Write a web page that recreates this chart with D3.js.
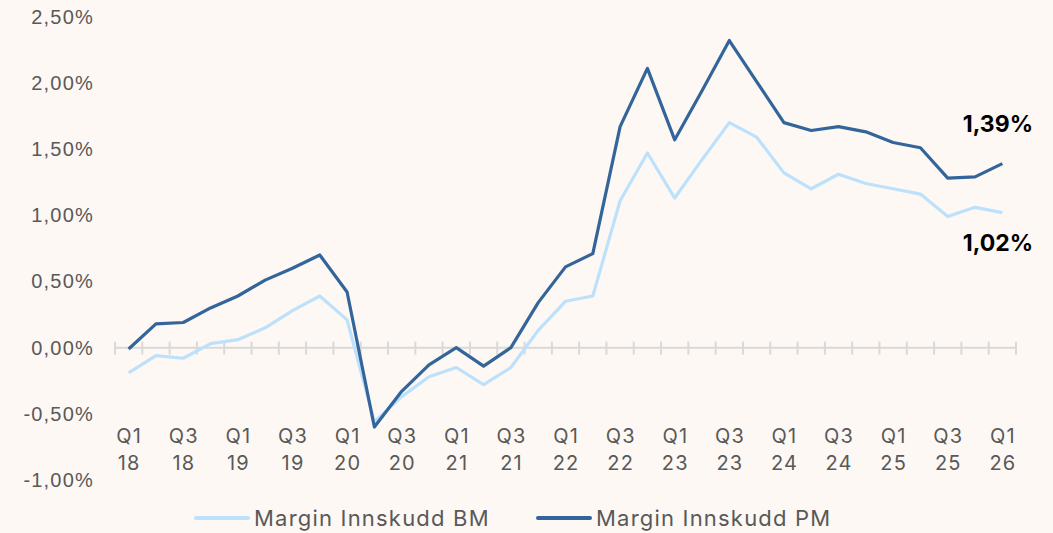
<html>
  <head>
    <script src="https://cdn.jsdelivr.net/npm/d3@7"></script>
    <style>
      * {
        margin: 0;
        padding: 0;
      }
      body {
        background-color: #fdf8f4;
        font-family: Inter, "Open Sans", sans-serif;
      }
      .lbl {
        fill: #595959;
        font-size: 20px;
        letter-spacing: 1.2px;
      }
      .note {
        fill: #000;
        font-size: 23px;
        font-weight: 700;
      }
    </style>
  </head>
  <body>
    <div id="chart"></div>
    <script>
      const quarters = [
        "Q1 18", "Q2 18", "Q3 18", "Q4 18", "Q1 19", "Q2 19", "Q3 19", "Q4 19",
        "Q1 20", "Q2 20", "Q3 20", "Q4 20", "Q1 21", "Q2 21", "Q3 21", "Q4 21",
        "Q1 22", "Q2 22", "Q3 22", "Q4 22", "Q1 23", "Q2 23", "Q3 23", "Q4 23",
        "Q1 24", "Q2 24", "Q3 24", "Q4 24", "Q1 25", "Q2 25", "Q3 25", "Q4 25",
        "Q1 26",
      ];
      const marginBM = [
        -0.19, -0.06, -0.08, 0.03, 0.06, 0.15, 0.28, 0.39, 0.21, -0.56, -0.37,
        -0.22, -0.15, -0.28, -0.15, 0.13, 0.35, 0.39, 1.11, 1.47, 1.13, 1.42,
        1.7, 1.59, 1.32, 1.2, 1.31, 1.24, 1.2, 1.16, 0.99, 1.06, 1.02,
      ];
      const marginPM = [
        -0.01, 0.18, 0.19, 0.3, 0.39, 0.51, 0.6, 0.7, 0.42, -0.6, -0.33, -0.13,
        0.0, -0.14, 0.0, 0.34, 0.61, 0.71, 1.67, 2.11, 1.57, 1.94, 2.32, 2.01,
        1.7, 1.64, 1.67, 1.63, 1.55, 1.51, 1.28, 1.29, 1.39,
      ];
      const yTicks = [-1, -0.5, 0, 0.5, 1, 1.5, 2, 2.5];
      const seriesNames = ["Margin Innskudd BM", "Margin Innskudd PM"];
      const colors = ["#bde1fb", "#33659a"];

      const w = 1053;
      const h = 533;

      const x = d3.scaleBand().domain(quarters).range([115, 1016]);
      const y = d3.scaleLinear().domain([-1, 2.5]).range([480, 16.7]);
      const fmt = (v) => v.toFixed(2).replace(".", ",") + "%";

      const svg = d3
        .select("#chart")
        .append("svg")
        .attr("width", w)
        .attr("height", h);

      // y labels
      const yAxis = svg
        .append("g")
        .attr("transform", "translate(94,0)")
        .call(d3.axisLeft(y).tickValues(yTicks).tickFormat(fmt).tickSize(0).tickPadding(0));
      yAxis.select(".domain").remove();
      yAxis
        .selectAll("text")
        .attr("class", "lbl")
        .attr("font-family", null)
        .attr("font-size", null)
        .attr("fill", null);

      // zero line with cross ticks at band edges
      const zero = y(0);
      svg
        .append("line")
        .attr("x1", 115)
        .attr("x2", 1016)
        .attr("y1", zero)
        .attr("y2", zero)
        .attr("stroke", "#d9d9d9")
        .attr("stroke-width", 2);
      const edges = quarters.map((q) => x(q)).concat([x.range()[1]]);
      svg
        .selectAll(".tk")
        .data(edges)
        .enter()
        .append("line")
        .attr("x1", (d) => d)
        .attr("x2", (d) => d)
        .attr("y1", zero - 6)
        .attr("y2", zero + 7)
        .attr("stroke", "#d9d9d9")
        .attr("stroke-width", 2);

      // x labels, every second quarter
      const xl = svg
        .selectAll(".xl")
        .data(quarters.filter((q, i) => i % 2 == 0))
        .enter()
        .append("text")
        .attr("class", "lbl")
        .attr("text-anchor", "middle");
      xl.append("tspan")
        .attr("x", (d) => x(d) + x.bandwidth() / 2 + 0.6)
        .attr("y", 443)
        .text((d) => d.split(" ")[0]);
      xl.append("tspan")
        .attr("x", (d) => x(d) + x.bandwidth() / 2 + 0.6)
        .attr("y", 470)
        .text((d) => d.split(" ")[1]);

      // lines
      const line = d3
        .line()
        .x((d, i) => x(quarters[i]) + x.bandwidth() / 2)
        .y((d) => y(d));
      [marginBM, marginPM].forEach((s, k) => {
        svg
          .append("path")
          .datum(s)
          .attr("d", line)
          .attr("fill", "none")
          .attr("stroke", colors[k])
          .attr("stroke-width", 3.2)
          .attr("stroke-linejoin", "round");
      });

      // end value labels
      svg
        .append("text")
        .attr("class", "note")
        .attr("x", 1033)
        .attr("y", 132)
        .attr("text-anchor", "end")
        .text(fmt(marginPM[marginPM.length - 1]));
      svg
        .append("text")
        .attr("class", "note")
        .attr("x", 1033)
        .attr("y", 251)
        .attr("text-anchor", "end")
        .text(fmt(marginBM[marginBM.length - 1]));

      // legend
      const legX = [196, 538];
      seriesNames.forEach((name, k) => {
        svg
          .append("line")
          .attr("x1", legX[k])
          .attr("x2", legX[k] + 52)
          .attr("y1", 518)
          .attr("y2", 518)
          .attr("stroke", colors[k])
          .attr("stroke-width", 4)
          .attr("stroke-linecap", "round");
        svg
          .append("text")
          .attr("class", "lbl")
          .attr("x", legX[k] + 58)
          .attr("y", 526)
          .style("font-size", "22px")
          .text(name);
      });
    </script>
  </body>
</html>
